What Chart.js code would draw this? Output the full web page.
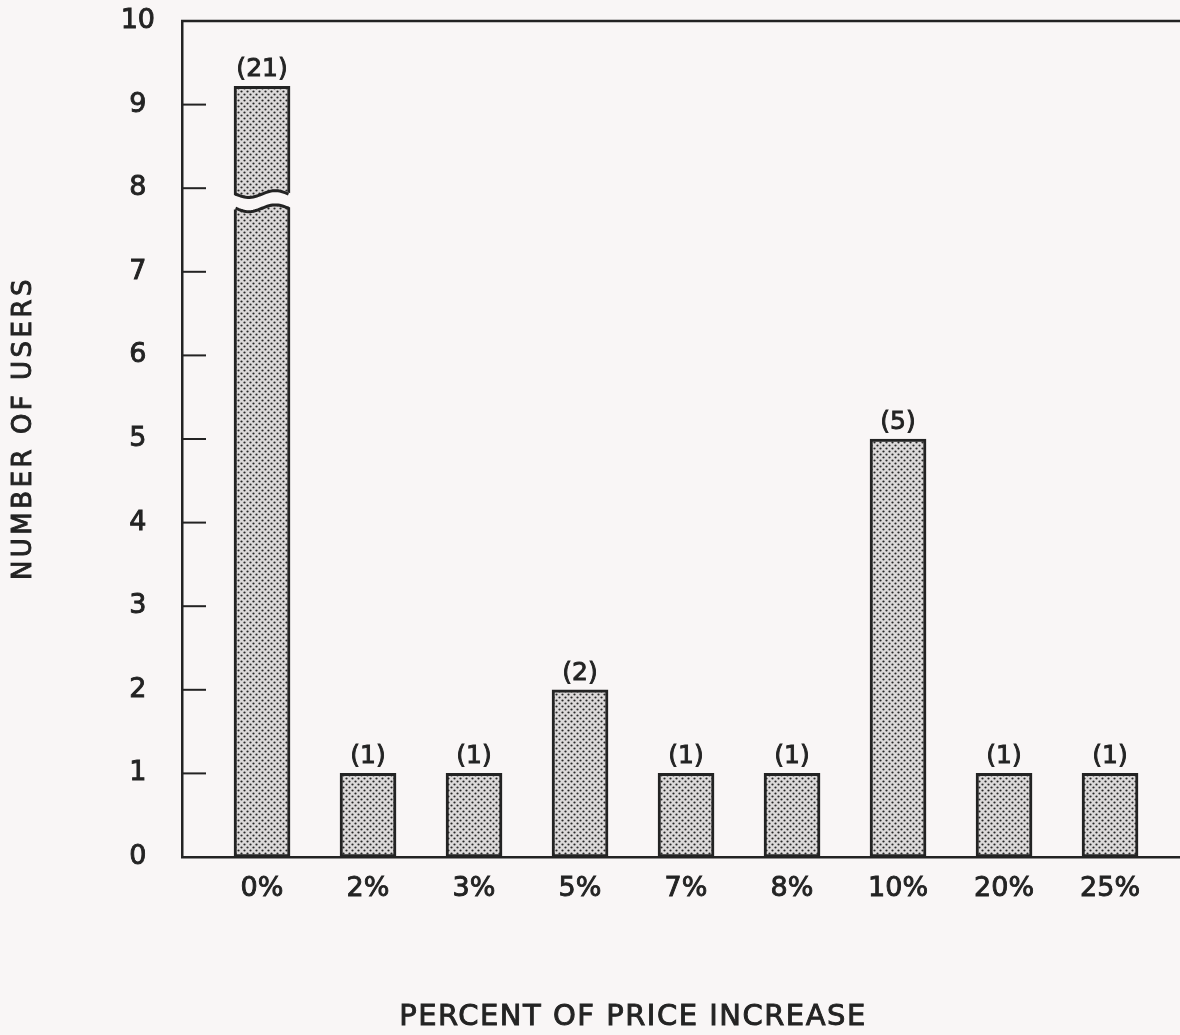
<!DOCTYPE html>
<html>
<head>
<meta charset="utf-8">
<title>Number of users by percent of price increase</title>
<script src="https://cdn.jsdelivr.net/npm/chart.js@4/dist/chart.umd.min.js"></script>
<style>
  html, body { margin: 0; padding: 0; background: #f9f6f6; }
  #wrap { width: 1180px; height: 1035px; }
</style>
</head>
<body>
<div id="wrap"><canvas id="chart" width="1180" height="1035"></canvas></div>
<script>
// Categories (percent of price increase) and number of users for each
const categories = ['0%', '2%', '3%', '5%', '7%', '8%', '10%', '20%', '25%'];
const users = [21, 1, 1, 2, 1, 1, 5, 1, 1];
const yTickValues = [0, 1, 2, 3, 4, 5, 6, 7, 8, 9, 10];

// Axis break for bars that run past the top of the value axis
const BREAK_TOP = 9.22;         // where a broken bar is capped
const BREAK_GAP = [7.76, 7.93]; // the wavy gap cut out of it

const INK = '#232323';
const PAPER = '#f9f6f6';
const FONT = '"DejaVu Sans", "Liberation Sans", sans-serif';

const canvas = document.getElementById('chart');
const ctx = canvas.getContext('2d');

// Stippled fill used by the bars
function stipple(context) {
  const t = document.createElement('canvas');
  t.width = 6; t.height = 6;
  const g = t.getContext('2d');
  g.fillStyle = '#dcd9d9';
  g.fillRect(0, 0, 6, 6);
  g.fillStyle = '#262626';
  [[1.5, 1.5], [4.5, 4.5]].forEach(([x, y]) => {
    g.beginPath(); g.arc(x, y, 1.1, 0, Math.PI * 2); g.fill();
  });
  return context.createPattern(t, 'repeat');
}

function wave(x0, x1, base, amp) {
  const pts = [];
  const n = 30;
  for (let k = 0; k <= n; k++) {
    const t = k / n;
    pts.push([x0 + (x1 - x0) * t, base + amp * Math.sin(2 * Math.PI * t)]);
  }
  return pts;
}

function heavyText(c, text, x, y) {
  c.lineWidth = 0.9;
  c.strokeStyle = INK;
  c.strokeText(text, x, y);
  c.fillText(text, x, y);
}

const brokenBars = {
  id: 'brokenBars',
  beforeDatasetsDraw(chart) {
    const ys = chart.scales.y;
    chart.getDatasetMeta(0).data.forEach((el, i) => {
      if (users[i] > ys.max) el.y = ys.getPixelForValue(BREAK_TOP);
    });
  },
  afterDatasetsDraw(chart) {
    const ys = chart.scales.y;
    const c = chart.ctx;
    chart.getDatasetMeta(0).data.forEach((el, i) => {
      if (users[i] <= ys.max) return;
      const l = el.x - el.width / 2, r = el.x + el.width / 2;
      const yUp = ys.getPixelForValue(BREAK_GAP[1]);
      const yLo = ys.getPixelForValue(BREAK_GAP[0]);
      const amp = 3.4;
      const up = wave(l - 3, r + 3, yUp, amp);
      const lo = wave(l - 3, r + 3, yLo, amp);
      c.save();
      c.fillStyle = PAPER;
      c.beginPath();
      up.forEach(([x, y], k) => k ? c.lineTo(x, y) : c.moveTo(x, y));
      lo.slice().reverse().forEach(([x, y]) => c.lineTo(x, y));
      c.closePath();
      c.fill();
      c.strokeStyle = INK;
      c.lineWidth = 3;
      [yUp, yLo].forEach(b => {
        const p = wave(l + 1.5, r - 1.5, b, amp);
        c.beginPath();
        p.forEach(([x, y], k) => k ? c.lineTo(x, y) : c.moveTo(x, y));
        c.stroke();
      });
      c.restore();
    });
  }
};

const valueLabels = {
  id: 'valueLabels',
  afterDatasetsDraw(chart) {
    const c = chart.ctx;
    c.save();
    c.fillStyle = INK;
    c.font = '25px ' + FONT;
    c.textAlign = 'center';
    c.textBaseline = 'alphabetic';
    chart.getDatasetMeta(0).data.forEach((el, i) => {
      heavyText(c, '(' + users[i] + ')', el.x, el.y - 10);
    });
    c.restore();
  }
};

const frame = {
  id: 'frame',
  afterDraw(chart) {
    const { left, right, top } = chart.chartArea;
    const ys = chart.scales.y;
    const c = chart.ctx;
    c.save();
    c.strokeStyle = INK;
    // top rule
    c.lineWidth = 2.5;
    c.beginPath(); c.moveTo(left - 1, top); c.lineTo(right, top); c.stroke();
    // inward tick marks
    c.lineWidth = 2;
    yTickValues.forEach(v => {
      if (v === ys.min || v === ys.max) return;
      const y = ys.getPixelForValue(v);
      c.beginPath(); c.moveTo(left, y); c.lineTo(left + 24, y); c.stroke();
    });
    // axis titles
    c.fillStyle = INK;
    c.textAlign = 'center';
    c.textBaseline = 'middle';
    c.font = '29px ' + FONT;
    c.letterSpacing = '1.5px';
    heavyText(c, 'PERCENT OF PRICE INCREASE', 633, 1017);
    c.translate(24, 428);
    c.rotate(-Math.PI / 2);
    c.font = '26px ' + FONT;
    c.letterSpacing = '3.5px';
    heavyText(c, 'NUMBER OF USERS', 0, 0);
    c.restore();
  }
};

const tickFont = { family: FONT, size: 27 };

new Chart(ctx, {
  type: 'bar',
  data: {
    datasets: [{
      data: users.map((v, i) => ({ x: i, y: v })),
      backgroundColor: stipple(ctx),
      borderColor: INK,
      borderWidth: 3,
      borderSkipped: false,
      barThickness: 56
    }]
  },
  options: {
    responsive: false,
    animation: false,
    events: [],
    layout: { padding: { top: 0, left: 0, right: 0, bottom: 0 } },
    plugins: {
      legend: { display: false },
      tooltip: { enabled: false }
    },
    scales: {
      x: {
        type: 'linear',
        offset: false,
        min: -0.755,
        max: 8.66,
        grid: { display: false, drawTicks: false, offset: false },
        border: { display: true, color: INK, width: 2.5 },
        afterBuildTicks(scale) {
          scale.ticks = categories.map((_, i) => ({ value: i }));
        },
        afterFit(scale) { scale.height = 178; },
        ticks: {
          color: INK,
          font: tickFont,
          textStrokeColor: INK,
          textStrokeWidth: 0.9,
          padding: 16,
          maxRotation: 0,
          autoSkip: false,
          callback: v => categories[v]
        }
      },
      y: {
        min: 0,
        max: 10,
        grid: { display: false, drawTicks: false },
        border: { display: true, color: INK, width: 2.5 },
        afterBuildTicks(scale) {
          scale.ticks = yTickValues.map(v => ({ value: v }));
        },
        afterFit(scale) {
          scale.width = 182;
          scale.paddingTop = 21;
          scale.paddingBottom = 0;
        },
        ticks: {
          color: INK,
          font: tickFont,
          textStrokeColor: INK,
          textStrokeWidth: 0.9,
          padding: 27,
          crossAlign: 'center'
        }
      }
    }
  },
  plugins: [brokenBars, valueLabels, frame]
});
</script>
</body>
</html>
